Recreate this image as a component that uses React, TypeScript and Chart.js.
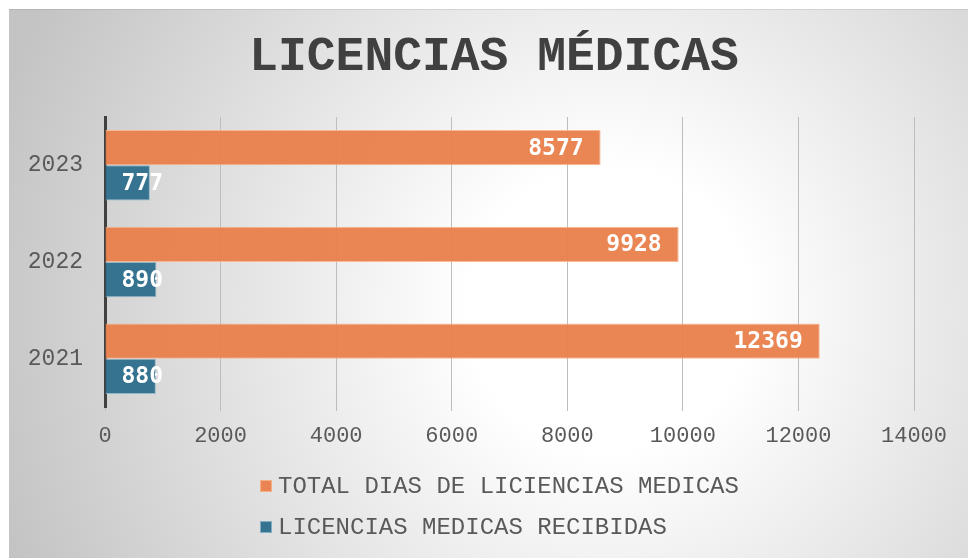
import React, { useEffect, useRef } from "react";
import { Chart, registerables } from "chart.js";

Chart.register(...registerables);

const categories = ["2023", "2022", "2021"];
const totalDias = [8577, 9928, 12369];
const licenciasRecibidas = [777, 890, 880];
const seriesNames = ["TOTAL DIAS DE LICIENCIAS MEDICAS", "LICENCIAS MEDICAS RECIBIDAS"];
const xTicks = [0, 2000, 4000, 6000, 8000, 10000, 12000, 14000];
const titleText = "LICENCIAS MÉDICAS";

const ORANGE = "rgba(232,128,74,0.95)";
const ORANGE_BORDER = "rgba(246,180,140,0.9)";
const BLUE = "rgba(47,112,142,0.97)";
const BLUE_BORDER = "rgba(140,180,200,0.9)";

const bgPlugin = {
  id: "bgGradient",
  beforeDraw(chart: any) {
    const { ctx, width, height } = chart;
    ctx.save();
    const g = ctx.createRadialGradient(600, 300, 0, 600, 300, 640);
    g.addColorStop(0, "#ffffff");
    g.addColorStop(0.22, "#ffffff");
    g.addColorStop(0.55, "#e6e6e6");
    g.addColorStop(1, "#c4c4c4");
    ctx.fillStyle = g;
    ctx.fillRect(0, 0, width, height);
    ctx.fillStyle = "rgba(0,0,0,0.08)";
    ctx.fillRect(0, 0, width, 1);
    ctx.restore();
  },
};

const titlePlugin = {
  id: "customTitle",
  afterDraw(chart: any) {
    const { ctx } = chart;
    ctx.save();
    ctx.font = "bold 48px 'Liberation Mono'";
    ctx.fillStyle = "#404040";
    ctx.textAlign = "center";
    ctx.textBaseline = "middle";
    ctx.fillText(titleText, 485, 49);
    ctx.restore();
  },
};

const labelPlugin = {
  id: "barLabels",
  afterDatasetsDraw(chart: any) {
    const { ctx } = chart;
    ctx.save();
    ctx.font = "bold 23px 'DejaVu Sans Mono'";
    ctx.fillStyle = "#ffffff";
    ctx.textBaseline = "middle";
    ctx.textAlign = "left";
    chart.data.datasets.forEach((ds: any, di: number) => {
      const meta = chart.getDatasetMeta(di);
      meta.data.forEach((el: any, i: number) => {
        const txt = String(ds.data[i]);
        const w = ctx.measureText(txt).width;
        const tx = Math.max(el.x - 17 - w, el.base + 16);
        ctx.fillText(txt, tx, el.y + 1);
      });
    });
    ctx.restore();
  },
};

const legendPlugin = {
  id: "customLegend",
  afterDraw(chart: any) {
    const { ctx } = chart;
    ctx.save();
    ctx.font = "24px 'Liberation Mono'";
    ctx.textBaseline = "middle";
    ctx.textAlign = "left";
    chart.data.datasets.forEach((ds: any, i: number) => {
      const cy = 477 + i * 41;
      ctx.fillStyle = ds.backgroundColor;
      ctx.fillRect(251, cy - 6, 12, 12);
      ctx.strokeStyle = ds.borderColor;
      ctx.lineWidth = 1;
      ctx.strokeRect(251.5, cy - 5.5, 11, 11);
      ctx.fillStyle = "#595959";
      ctx.fillText(ds.label, 269, cy + 1);
    });
    ctx.restore();
  },
};

export default function App() {
  const ref = useRef<HTMLCanvasElement | null>(null);
  useEffect(() => {
    if (!ref.current) return;
    const chart = new Chart(ref.current, {
      type: "bar",
      data: {
        labels: categories,
        datasets: [
          {
            label: seriesNames[0],
            data: totalDias,
            backgroundColor: ORANGE,
            borderColor: ORANGE_BORDER,
            borderWidth: 1,
          },
          {
            label: seriesNames[1],
            data: licenciasRecibidas,
            backgroundColor: BLUE,
            borderColor: BLUE_BORDER,
            borderWidth: 1,
          },
        ],
      },
      options: {
        indexAxis: "y",
        animation: false,
        responsive: true,
        maintainAspectRatio: false,
        datasets: { bar: { categoryPercentage: 0.73, barPercentage: 1 } },
        layout: { padding: { left: 0, right: 54, top: 108, bottom: 101 } },
        plugins: {
          legend: { display: false },
          tooltip: { enabled: false },
          title: { display: false },
        },
        scales: {
          x: {
            min: 0,
            max: 14000,
            afterBuildTicks: (scale: any) => {
              scale.ticks = xTicks.map((v) => ({ value: v }));
            },
            afterFit: (scale: any) => {
              scale.height = 50;
            },
            grid: { color: "#bdbdbd", lineWidth: 1, tickLength: 4, drawTicks: true },
            border: { display: false },
            ticks: {
              color: "#595959",
              font: { family: "'Liberation Mono'", size: 22 },
              padding: 12,
              maxRotation: 0,
              callback: (v: any) => String(v),
            },
          },
          y: {
            z: 1,
            afterFit: (scale: any) => {
              scale.width = 96;
            },
            grid: { display: false, drawTicks: false },
            border: { display: true, color: "#404040", width: 3 },
            ticks: {
              color: "#595959",
              font: { family: "'Liberation Mono'", size: 23 },
              padding: 22,
            },
          },
        },
      },
      plugins: [bgPlugin, labelPlugin, legendPlugin, titlePlugin],
    } as any);
    return () => chart.destroy();
  }, []);
  return (
    <div style={{ position: "fixed", left: 9, top: 9, width: 959, height: 549 }}>
      <canvas ref={ref} />
    </div>
  );
}
